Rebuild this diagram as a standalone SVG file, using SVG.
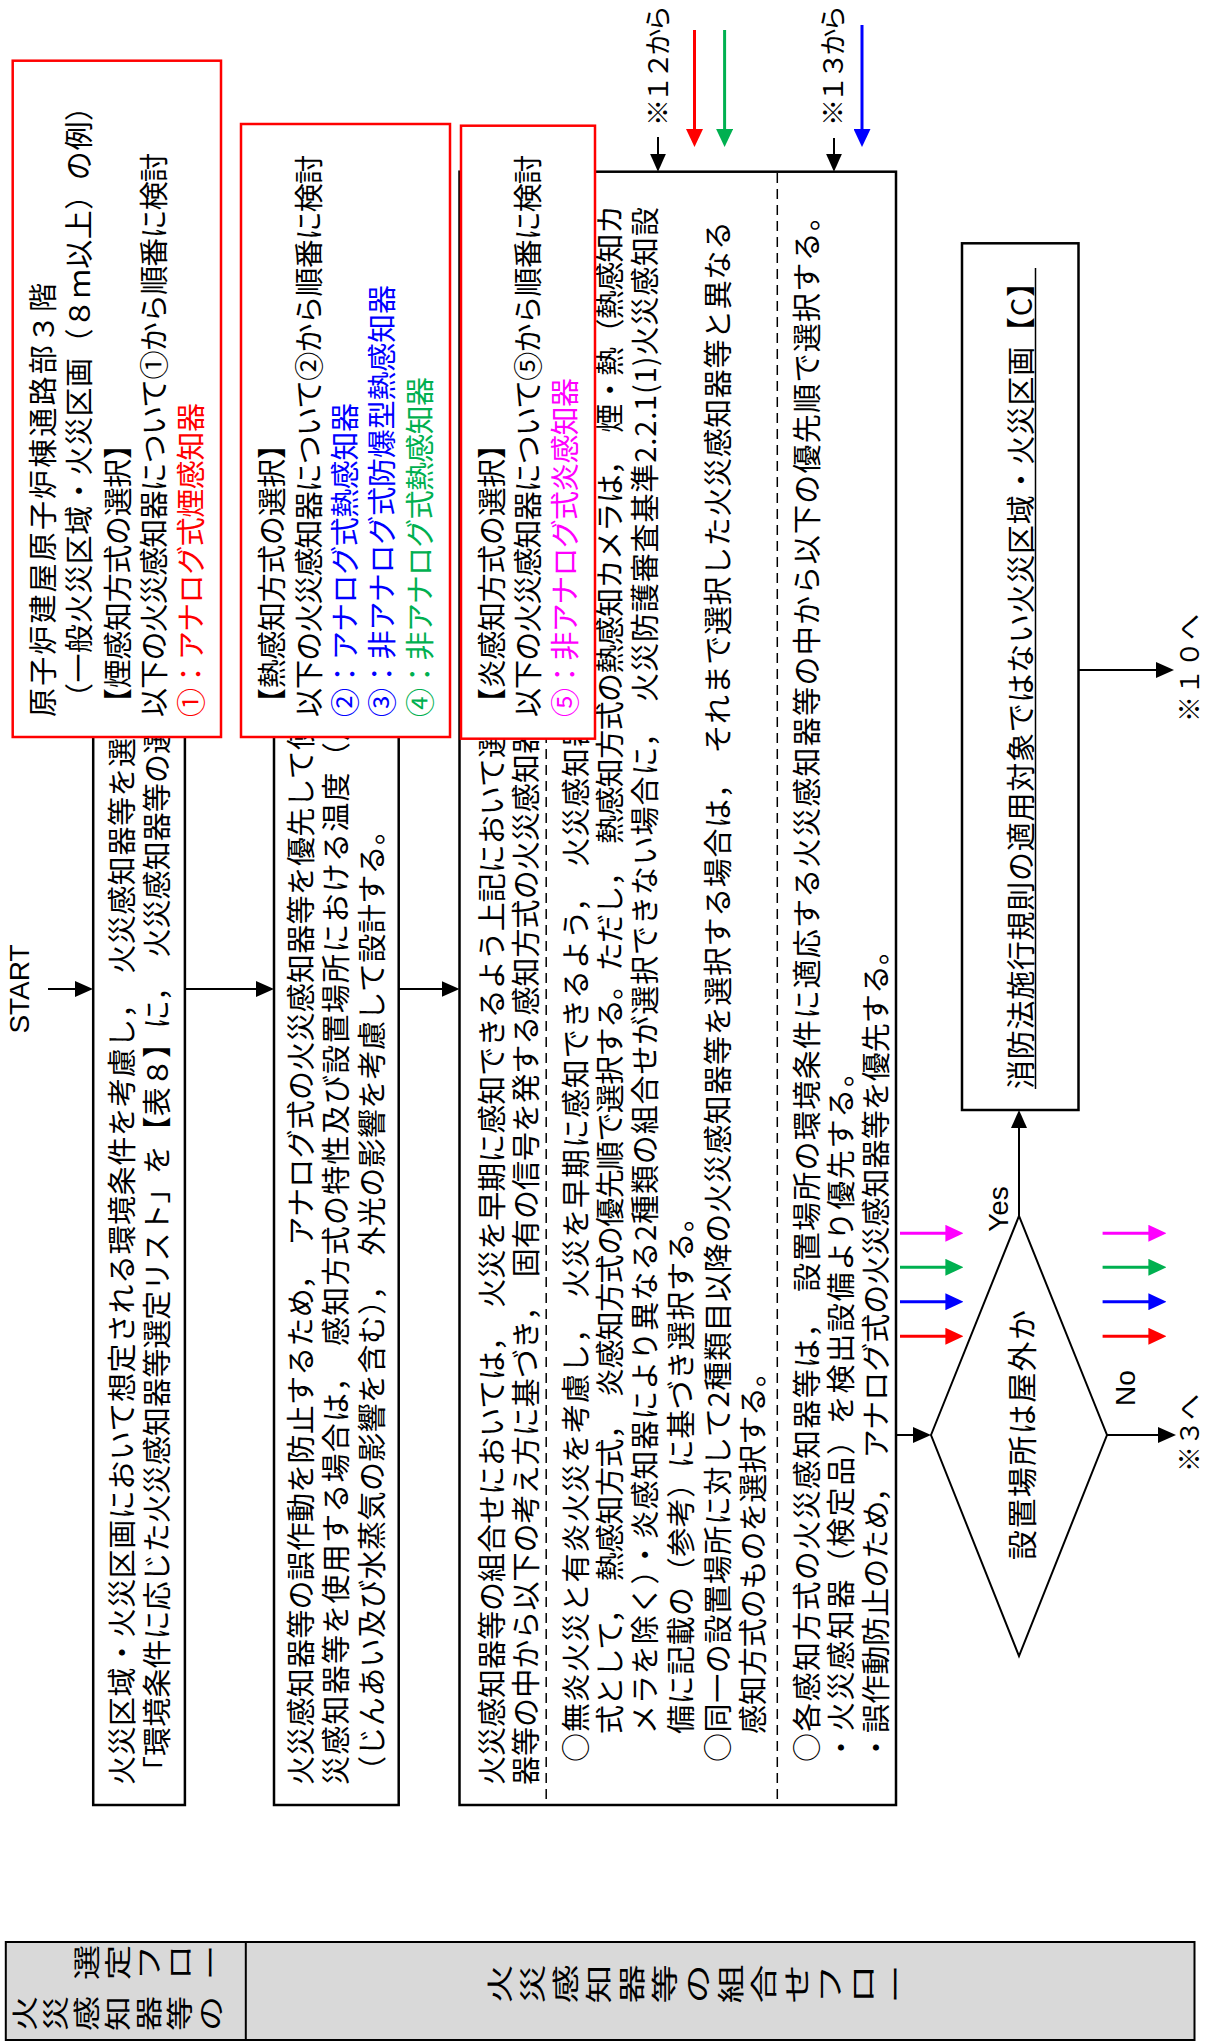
<svg xmlns="http://www.w3.org/2000/svg" width="1208" height="2042" viewBox="0 0 1208 2042">
<style>
.t{font-family:"Noto Sans CJK JP","Noto Sans CJK SC",sans-serif;font-size:29px;fill:#000}
.s{font-family:"Noto Sans CJK JP","Noto Sans CJK SC",sans-serif;font-size:27px;fill:#000}
.lat{font-family:"Liberation Sans",Arial,sans-serif;font-size:28px;fill:#000}
.box{fill:#fff;stroke:#000;stroke-width:2.5}
.rbox{fill:#fff;stroke:#ff0000;stroke-width:2.5}
.dash{stroke:#000;stroke-width:1.5;stroke-dasharray:10 6;fill:none}
.c{fill:none;stroke:#000;stroke-width:2}
.red{fill:#ff0000}.blue{fill:#0000ff}.green{fill:#00b050}.mag{fill:#ff00ff}
</style>
<defs>
<marker id="ab" markerWidth="18" markerHeight="16" refX="8" refY="8" orient="auto" markerUnits="userSpaceOnUse"><path d="M0,0 L18,8 L0,16 z" fill="#000"/></marker>
<marker id="ar" markerWidth="18" markerHeight="17" refX="8" refY="8.5" orient="auto" markerUnits="userSpaceOnUse"><path d="M0,0 L18,8.5 L0,17 z" fill="#ff0000"/></marker>
<marker id="ag" markerWidth="18" markerHeight="17" refX="8" refY="8.5" orient="auto" markerUnits="userSpaceOnUse"><path d="M0,0 L18,8.5 L0,17 z" fill="#00b050"/></marker>
<marker id="abl" markerWidth="18" markerHeight="17" refX="8" refY="8.5" orient="auto" markerUnits="userSpaceOnUse"><path d="M0,0 L18,8.5 L0,17 z" fill="#0000ff"/></marker>
<marker id="am" markerWidth="18" markerHeight="17" refX="8" refY="8.5" orient="auto" markerUnits="userSpaceOnUse"><path d="M0,0 L18,8.5 L0,17 z" fill="#ff00ff"/></marker>
</defs>

<g id="connectors">
<path class="c" d="M48,989 H83" marker-end="url(#ab)"/>
<path class="c" d="M185,989 H264" marker-end="url(#ab)"/>
<path class="c" d="M399,989 H449.5" marker-end="url(#ab)"/>
<path class="c" d="M896,1435 H921" marker-end="url(#ab)"/>
<path class="c" d="M1019,1216 V1120" marker-end="url(#ab)"/>
<path class="c" d="M1107,1435 H1166" marker-end="url(#ab)"/>
<path class="c" d="M1078.6,670 H1164" marker-end="url(#ab)"/>
<path class="c" d="M658,137 V161.7" marker-end="url(#ab)"/>
<path class="c" d="M834,138 V161.7" marker-end="url(#ab)"/>
<path d="M694.5,30 V137" stroke="#ff0000" stroke-width="3" marker-end="url(#ar)"/>
<path d="M724.6,30 V137" stroke="#00b050" stroke-width="3" marker-end="url(#ag)"/>
<path d="M862,25 V137" stroke="#0000ff" stroke-width="3" marker-end="url(#abl)"/>
<path d="M900,1233.3 H953.4" stroke="#ff00ff" stroke-width="3" marker-end="url(#am)"/>
<path d="M900,1267.3 H953.4" stroke="#00b050" stroke-width="3" marker-end="url(#ag)"/>
<path d="M900,1301.7 H953.4" stroke="#0000ff" stroke-width="3" marker-end="url(#abl)"/>
<path d="M900,1336.3 H953.4" stroke="#ff0000" stroke-width="3" marker-end="url(#ar)"/>
<path d="M1102.6,1233.3 H1156.4" stroke="#ff00ff" stroke-width="3" marker-end="url(#am)"/>
<path d="M1102.6,1267.3 H1156.4" stroke="#00b050" stroke-width="3" marker-end="url(#ag)"/>
<path d="M1102.6,1301.7 H1156.4" stroke="#0000ff" stroke-width="3" marker-end="url(#abl)"/>
<path d="M1102.6,1336.3 H1156.4" stroke="#ff0000" stroke-width="3" marker-end="url(#ar)"/>
<text class="lat" transform="translate(1008,1209) rotate(-90)" text-anchor="middle">Yes</text>
<text class="lat" transform="translate(1135,1388) rotate(-90)" text-anchor="middle">No</text>
<text class="s" transform="translate(668,126) rotate(-90)" textLength="121" lengthAdjust="spacing">※１２から</text>
<text class="s" transform="translate(843,126) rotate(-90)" textLength="121" lengthAdjust="spacing">※１３から</text>
<text class="s" style="font-size:26px" transform="translate(1199,722) rotate(-90)" textLength="108" lengthAdjust="spacing">※１０へ</text>
<text class="s" style="font-size:26px" transform="translate(1199,1472) rotate(-90)">※３へ</text>
</g>

<g id="start">
<text class="lat" transform="translate(29,989) rotate(-90)" text-anchor="middle">START</text>
</g>

<g id="box1">
<rect class="box" x="93.2" y="150" width="91.7" height="1655"/>
<text class="t" transform="translate(133,1785) rotate(-90)" textLength="1047" lengthAdjust="spacing">火災区域・火災区画において想定される環境条件を考慮し，　火災感知器等を選</text>
<text class="t" transform="translate(167.5,1785) rotate(-90)" textLength="1060" lengthAdjust="spacing">「環境条件に応じた火災感知器等選定リスト」を【表８】に，　火災感知器等の選</text>
</g>

<g id="box2">
<rect class="box" x="274" y="171.7" width="124.7" height="1633.3"/>
<text class="t" transform="translate(312,1785) rotate(-90)" textLength="1064" lengthAdjust="spacing">火災感知器等の誤作動を防止するため，　アナログ式の火災感知器等を優先して使</text>
<text class="t" transform="translate(347,1785) rotate(-90)" textLength="1073" lengthAdjust="spacing">災感知器等を使用する場合は，　感知方式の特性及び設置場所における温度（周</text>
<text class="t" transform="translate(383,1785) rotate(-90)" textLength="969" lengthAdjust="spacing">（じんあい及び水蒸気の影響を含む），　外光の影響を考慮して設計する。</text>
</g>

<g id="box3">
<rect class="box" x="459.5" y="171.7" width="436.5" height="1633.3"/>
<line class="dash" x1="546.2" y1="173" x2="546.2" y2="1804"/>
<line class="dash" x1="777.3" y1="173" x2="777.3" y2="1804"/>
<text class="t" transform="translate(503,1785) rotate(-90)" textLength="1056" lengthAdjust="spacing">火災感知器等の組合せにおいては，　火災を早期に感知できるよう上記において選</text>
<text class="t" transform="translate(537,1785) rotate(-90)" textLength="1060" lengthAdjust="spacing">器等の中から以下の考え方に基づき，　固有の信号を発する感知方式の火災感知器</text>
<text class="t" transform="translate(587,1762) rotate(-90)" textLength="1044" lengthAdjust="spacing">○無炎火災と有炎火災を考慮し，　火災を早期に感知できるよう，　火災感知器</text>
<text class="t" transform="translate(621,1734) rotate(-90)" textLength="1529" lengthAdjust="spacing">式として，　熱感知方式，　炎感知方式の優先順で選択する。ただし，　熱感知方式の熱感知カメラは，　煙・熱（熱感知カ</text>
<text class="t" transform="translate(656,1734) rotate(-90)" textLength="1527" lengthAdjust="spacing">メラを除く）・炎感知器により異なる2種類の組合せが選択できない場合に，　火災防護審査基準2.2.1(1)火災感知設</text>
<text class="t" transform="translate(692,1734) rotate(-90)" textLength="531" lengthAdjust="spacing">備に記載の（参考）に基づき選択する。</text>
<text class="t" transform="translate(729,1762) rotate(-90)" textLength="1541" lengthAdjust="spacing">○同一の設置場所に対して2種類目以降の火災感知器等を選択する場合は，　それまで選択した火災感知器等と異なる</text>
<text class="t" transform="translate(764,1734) rotate(-90)" textLength="376" lengthAdjust="spacing">感知方式のものを選択する。</text>
<text class="t" transform="translate(818,1762) rotate(-90)" textLength="1560" lengthAdjust="spacing">○各感知方式の火災感知器等は，　設置場所の環境条件に適応する火災感知器等の中から以下の優先順で選択する。</text>
<text class="t" transform="translate(852,1762) rotate(-90)" textLength="704" lengthAdjust="spacing">・火災感知器（検定品）を検出設備より優先する。</text>
<text class="t" transform="translate(887,1762) rotate(-90)" textLength="826" lengthAdjust="spacing">・誤作動防止のため，　アナログ式の火災感知器等を優先する。</text>
</g>

<g id="note-smoke">
<rect class="rbox" x="12.7" y="60.7" width="208.3" height="676.3"/>
<text class="t" transform="translate(54,717) rotate(-90)" textLength="434" lengthAdjust="spacing">原子炉建屋原子炉棟通路部３階</text>
<text class="t" transform="translate(90,712) rotate(-90)" textLength="620" lengthAdjust="spacing">（一般火災区域・火災区画（８ｍ以上）の例）</text>
<text class="t" transform="translate(129,717) rotate(-90)" textLength="287" lengthAdjust="spacing">【煙感知方式の選択】</text>
<text class="t" transform="translate(165,717) rotate(-90)" textLength="564" lengthAdjust="spacing">以下の火災感知器について①から順番に検討</text>
<text class="t red" transform="translate(202,717) rotate(-90)" textLength="314" lengthAdjust="spacing">①：アナログ式煙感知器</text>
</g>

<g id="note-heat">
<rect class="rbox" x="241" y="124" width="209" height="613"/>
<text class="t" transform="translate(283,717) rotate(-90)" textLength="287" lengthAdjust="spacing">【熱感知方式の選択】</text>
<text class="t" transform="translate(320,717) rotate(-90)" textLength="562" lengthAdjust="spacing">以下の火災感知器について②から順番に検討</text>
<text class="t blue" transform="translate(356,717) rotate(-90)" textLength="314" lengthAdjust="spacing">②：アナログ式熱感知器</text>
<text class="t blue" transform="translate(393,717) rotate(-90)" textLength="432" lengthAdjust="spacing">③：非アナログ式防爆型熱感知器</text>
<text class="t green" transform="translate(431,717) rotate(-90)" textLength="340" lengthAdjust="spacing">④：非アナログ式熱感知器</text>
</g>

<g id="note-flame">
<rect class="rbox" x="461" y="125.7" width="134" height="613"/>
<text class="t" transform="translate(503,717) rotate(-90)" textLength="287" lengthAdjust="spacing">【炎感知方式の選択】</text>
<text class="t" transform="translate(539,717) rotate(-90)" textLength="562" lengthAdjust="spacing">以下の火災感知器について⑤から順番に検討</text>
<text class="t mag" transform="translate(576,717) rotate(-90)" textLength="339" lengthAdjust="spacing">⑤：非アナログ式炎感知器</text>
</g>

<g id="decision">
<polygon points="931,1435 1019,1216 1107,1435 1019,1656" fill="#fff" stroke="#000" stroke-width="2"/>
<text class="t" style="font-size:30px" transform="translate(1033,1560) rotate(-90)" textLength="250" lengthAdjust="spacing">設置場所は屋外か</text>
</g>

<g id="box-c">
<rect class="box" x="962" y="243.3" width="116.5" height="866.7"/>
<text class="t" transform="translate(1032,1089) rotate(-90)" textLength="821" lengthAdjust="spacing">消防法施行規則の適用対象ではない火災区域・火災区画【C】</text>
<line x1="1035.5" y1="268" x2="1035.5" y2="1089" stroke="#000" stroke-width="1.5"/>
</g>

<g id="title-table">
<rect x="5.8" y="1942" width="1188.7" height="98" fill="#d9d9d9" stroke="#000" stroke-width="2"/>
<line x1="245.8" y1="1942" x2="245.8" y2="2040" stroke="#000" stroke-width="2"/>
<text class="s" transform="scale(1,1.3)" x="97.3 128.3 159.3 190.3 221.3" y="1523" rotate="-90">選定フロー</text>
<text class="s" transform="scale(1,1.3)" x="35.3 66.3 97.3 128.3 159.3 190.3 221.3" y="1562.3" rotate="-90">火災感知器等の</text>
<text class="s" transform="scale(1,1.45)" x="510 543 576 609 642 675 708 741 774 807 840 873 906" y="1381.7" rotate="-90">火災感知器等の組合せフロー</text>
</g>
</svg>
